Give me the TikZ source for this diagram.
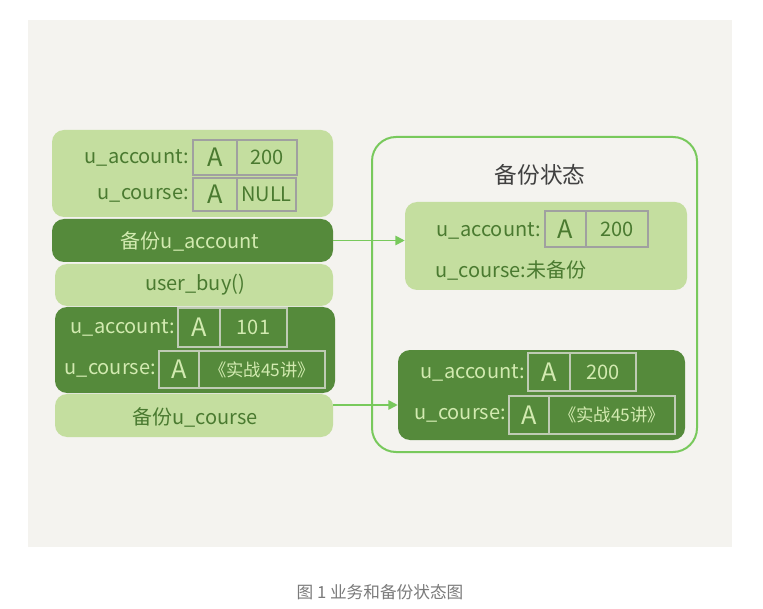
\documentclass[tikz,border=0pt]{standalone}
\usepackage{fontspec}
\setmainfont{Noto Sans CJK SC}
\usetikzlibrary{fit,arrows.meta}
\definecolor{panel}{HTML}{F4F3EF}
\definecolor{lg}{HTML}{C4DE9F}
\definecolor{dg}{HTML}{558A3B}
\definecolor{ltxt}{HTML}{D2EAB0}
\definecolor{dtxt}{HTML}{4A7A30}
\definecolor{cellg}{HTML}{A0A0A0}
\definecolor{celll}{HTML}{BFCBB4}
\definecolor{frame}{HTML}{78C95C}
\definecolor{cap}{HTML}{7A7A7A}
\tikzset{
  lightbox/.style={fill=lg,rounded corners=9pt,inner sep=0pt,text=dtxt},
  darkbox/.style={fill=dg,rounded corners=9pt,inner sep=0pt,text=ltxt},
  lcell/.style={draw=cellg,line width=1pt,inner sep=0pt,text=dtxt},
  dcell/.style={draw=celll,line width=1pt,inner sep=0pt,text=ltxt},
  bigA/.style={font=\fontsize{19}{20}\selectfont},
  val/.style={font=\fontsize{15}{17}\selectfont},
  txt/.style={font=\fontsize{15}{17}\selectfont},
  lab/.style={anchor=east,inner sep=0pt,font=\fontsize{15}{17}\selectfont},
  arr/.style={draw=frame,line width=1.3pt,-{Triangle[length=7pt,width=7pt]}},
}
\begin{document}
\begin{tikzpicture}[x=0.75pt,y=-0.75pt]
\useasboundingbox (0,0) rectangle (763,609);
\fill[white] (0,0) rectangle (763,609);
\fill[panel] (28,20) rectangle (732,547);
% left stack
\node[lightbox,fit={(52,130)(333,217)}] (B1) {};
\node[lcell,fit={(193,140)(237,175)}] (B1a) {};
\node[text=dtxt,bigA] at (B1a) {A};
\node[lcell,fit={(237,140)(297,175)}] (B1b) {};
\node[text=dtxt,val] at (B1b) {200};
\node[lcell,fit={(193,178)(237,211)}] (B1c) {};
\node[text=dtxt,bigA] at (B1c) {A};
\node[lcell,fit={(237,178)(296,211)}] (B1d) {};
\node[text=dtxt,val] at (B1d) {NULL};
\node[lab,text=dtxt] (B1l1) at (189,158) {u\_account:};
\node[lab,text=dtxt] (B1l2) at (189,195) {u\_course:};

\node[darkbox,fit={(52,219)(333,262)}] (B2) {};
\node[text=ltxt,txt] (B2t) at (190,241) {备份u\_account};

\node[lightbox,fit={(55,264)(333,306)}] (B3) {};
\node[text=dtxt,txt] (B3t) at (195,285) {user\_buy()};

\node[darkbox,fit={(55,307)(335,393)}] (B4) {};
\node[dcell,fit={(178,308)(220,347)}] (B4a) {};
\node[text=ltxt,bigA] at (B4a) {A};
\node[dcell,fit={(220,308)(287,347)}] (B4b) {};
\node[text=ltxt,val] at (B4b) {101};
\node[dcell,fit={(159,351)(199,388)}] (B4c) {};
\node[text=ltxt,bigA] at (B4c) {A};
\node[dcell,fit={(199,351)(325,388)}] (B4d) {};
\node[text=ltxt,font=\fontsize{13}{15}\selectfont] at (B4d) {《实战45讲》};
\node[lab,text=ltxt] (B4l1) at (175,328) {u\_account:};
\node[lab,text=ltxt] (B4l2) at (156,370) {u\_course:};

\node[lightbox,fit={(55,394)(333,437)}] (B5) {};
\node[text=dtxt,txt] (B5t) at (195,417) {备份u\_course};

% right frame
\node[draw=frame,line width=1.5pt,rounded corners=18pt,inner sep=0pt,fit={(372,137)(697,452)}] (F) {};
\node[text=black!75,font=\fontsize{17}{19}\selectfont] (T) at (540,175) {备份状态};

\node[lightbox,fit={(405,202)(687,290)}] (R1) {};
\node[lcell,fit={(545,211)(586,247)}] (R1a) {};
\node[text=dtxt,bigA] at (R1a) {A};
\node[lcell,fit={(586,211)(648,247)}] (R1b) {};
\node[text=dtxt,val] at (R1b) {200};
\node[lab,text=dtxt] (R1l1) at (541,231) {u\_account:};
\node[lab,anchor=west,text=dtxt] (R1l2) at (435,270) {u\_course:未备份};

\node[darkbox,fit={(398,350)(685,440)}] (R2) {};
\node[dcell,fit={(528,353)(570,391)}] (R2a) {};
\node[text=ltxt,bigA] at (R2a) {A};
\node[dcell,fit={(570,353)(636,391)}] (R2b) {};
\node[text=ltxt,val] at (R2b) {200};
\node[dcell,fit={(509,396)(549,434)}] (R2c) {};
\node[text=ltxt,bigA] at (R2c) {A};
\node[dcell,fit={(549,396)(675,434)}] (R2d) {};
\node[text=ltxt,font=\fontsize{13}{15}\selectfont] at (R2d) {《实战45讲》};
\node[lab,text=ltxt] (R2l1) at (525,373) {u\_account:};
\node[lab,text=ltxt] (R2l2) at (506,415) {u\_course:};

% arrows
\draw[arr] (B2.east) -- (R1.west |- B2.east);
\draw[arr] (B5.east |- 0,405) -- (R2.west |- 0,405);

% caption
\node[text=cap,font=\fontsize{12.5}{14}\selectfont] (C) at (380,592) {图 1 业务和备份状态图};
\end{tikzpicture}
\end{document}
